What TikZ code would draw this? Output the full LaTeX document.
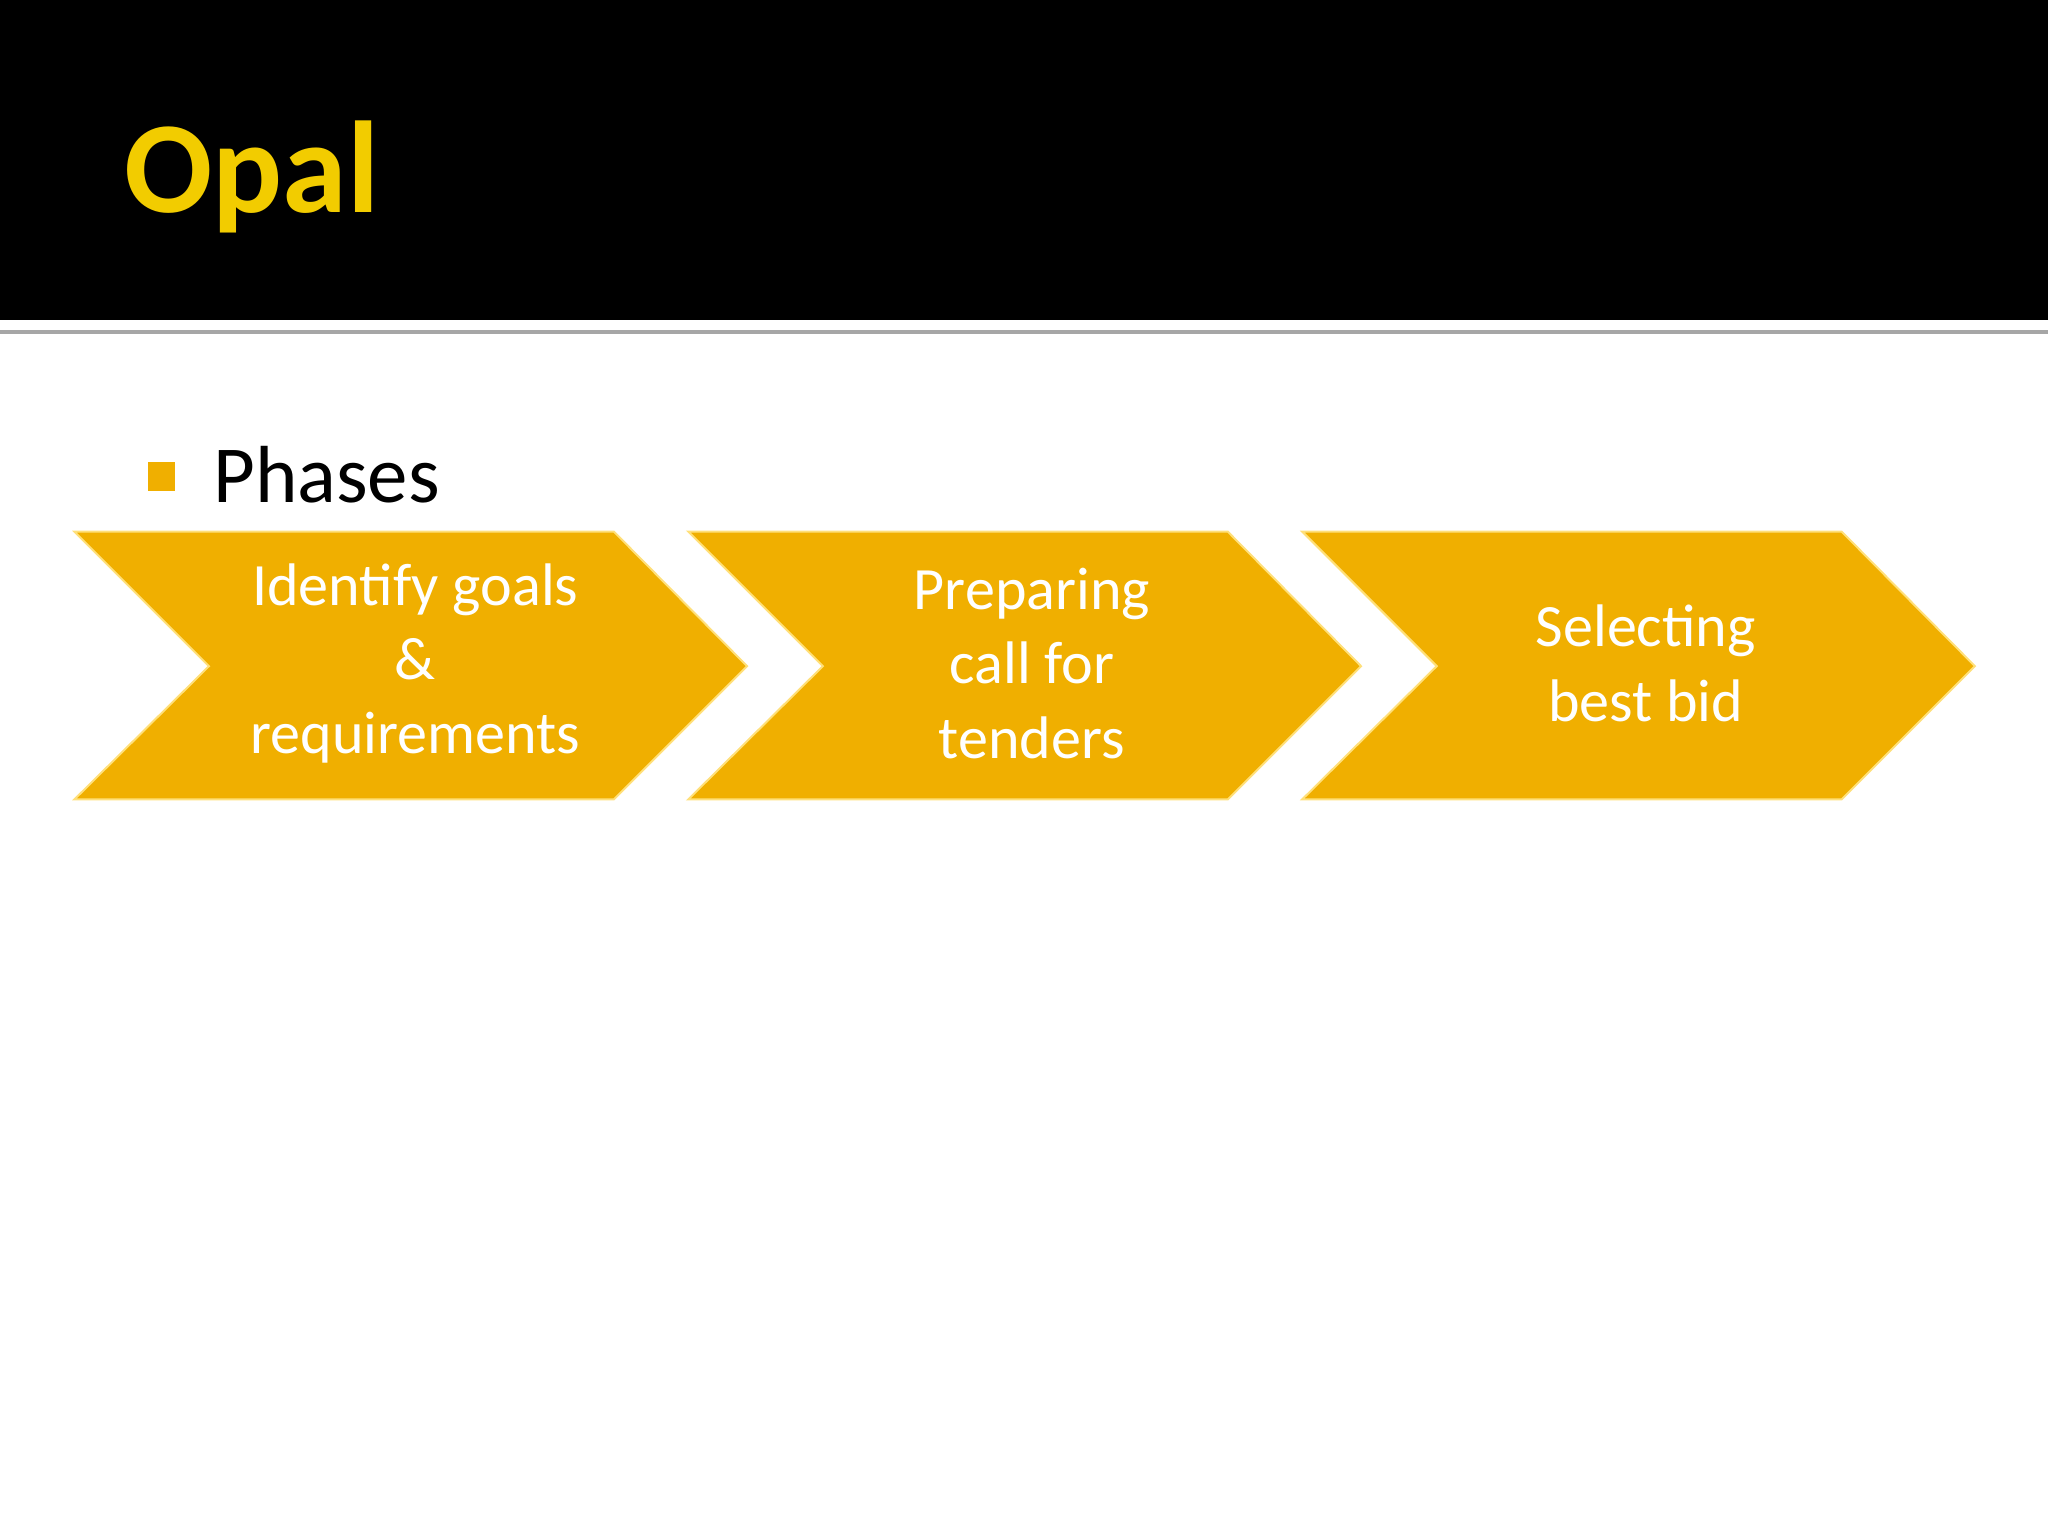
\documentclass[tikz,border=0pt]{standalone}
\usepackage{fontspec}
\setmainfont{Carlito}
\begin{document}
\begin{tikzpicture}[x=1pt,y=-1pt,
  chev/.style={fill=chevfill,draw=chevline,line width=1.5pt},
  chevtext/.style={text=white,align=center,font=\fontsize{46}{57}\selectfont}]
\definecolor{chevfill}{HTML}{F0AF00}
\definecolor{chevline}{HTML}{FFE07A}
\definecolor{titlecol}{HTML}{F2CC00}
\useasboundingbox (0,0) rectangle (1568,1176);
\fill[white] (0,0) rectangle (1568,1176);
\fill[black] (0,0) rectangle (1568,245);
\draw[gray!70,line width=3pt] (0,254) -- (1568,254);
\node[anchor=base west,text=titlecol,font=\fontsize{100}{110}\selectfont\bfseries,inner sep=0] (title) at (95,163) {Opal};
\fill[chevfill] (113,354) rectangle (134,376);
\node[anchor=base west,font=\fontsize{62}{70}\selectfont,inner sep=0] (phases) at (163,385) {Phases};
\draw[chev] (57,407) -- (470,407) -- (572,510) -- (470,612) -- (57,612) -- (160,510) -- cycle;
\draw[chev] (527,407) -- (940,407) -- (1042,510) -- (940,612) -- (527,612) -- (630,510) -- cycle;
\draw[chev] (997,407) -- (1410,407) -- (1512,510) -- (1410,612) -- (997,612) -- (1100,510) -- cycle;
\node[chevtext] (a) at (318,508) {Identify goals\\\&\\requirements};
\node[chevtext] (b) at (790,508) {Preparing\\call for\\tenders};
\node[chevtext] (c) at (1260,508) {Selecting\\best bid};
\end{tikzpicture}
\end{document}
